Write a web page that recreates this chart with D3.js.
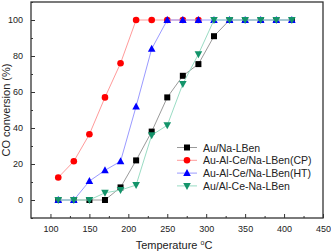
<!DOCTYPE html>
<html>
<head>
<meta charset="utf-8">
<script src="https://cdn.jsdelivr.net/npm/d3@7"></script>
<style>
    body { margin: 0; background: #fff; }
    text { font-family: 'Liberation Sans', Arial, sans-serif; }
</style>
</head>
<body>
<div id="chart"></div>
<script>
// temperatures (°C) shared by all series
const temps = [110, 130, 150, 170, 190, 210, 230, 250, 270, 290, 310, 330, 350, 370, 390, 410];

// CO conversion (%) per catalyst
const auNa = [0, 0, 0, 0, 7, 22, 38, 57, 69, 75.5, 91, 100, 100, 100, 100, 100];
const auCP = [12.5, 21.5, 36.5, 57, 76, 100, 100, 100, 100, 100];
const auHT = [0, 0, 10.5, 16.5, 21.5, 52, 84, 100, 100, 100, 100, 100, 100, 100, 100, 100];
const auAlCe = [0, 0, 0, 4, 5.5, 8.3, 36, 41.5, 64.5, 81, 100, 100, 100, 100, 100, 100];

const seriesNames = ['Au/Na-LBen', 'Au-Al-Ce/Na-LBen(CP)', 'Au-Al-Ce/Na-LBen(HT)', 'Au/Al-Ce-Na-LBen'];
const xTicks = [100, 150, 200, 250, 300, 350, 400, 450];
const yTicks = [0, 20, 40, 60, 80, 100];

const series = [
    { name: seriesNames[0], values: auNa, color: '#000000', line: '#9a9a9a', shape: 'square' },
    { name: seriesNames[1], values: auCP, color: '#ff0000', line: '#ff9a9a', shape: 'circle' },
    { name: seriesNames[2], values: auHT, color: '#0000ff', line: '#9a9aff', shape: 'up' },
    { name: seriesNames[3], values: auAlCe, color: '#13946a', line: '#9adcc4', shape: 'down' },
];

const width = 331, height = 251;
const margin = { top: 2, right: 8, bottom: 33, left: 31 };

const svg = d3.select('#chart').append('svg')
    .attr('width', width).attr('height', height);

const x = d3.scaleLinear().domain([75, 450]).range([margin.left, width - margin.right]);
const y = d3.scaleLinear().domain([-10, 110]).range([height - margin.bottom, margin.top]);

// frame
svg.append('rect')
    .attr('x', x.range()[0]).attr('y', y.range()[1])
    .attr('width', x.range()[1] - x.range()[0])
    .attr('height', y.range()[0] - y.range()[1])
    .attr('fill', 'none').attr('stroke', '#333').attr('stroke-width', 1.3);

// axes with inward ticks
const xAxis = svg.append('g').attr('transform', `translate(0,${y.range()[0]})`)
    .call(d3.axisBottom(x).tickValues(xTicks).tickSizeInner(-4).tickSizeOuter(0).tickPadding(8));
const xMinor = svg.append('g').attr('transform', `translate(0,${y.range()[0]})`)
    .call(d3.axisBottom(x).tickValues(d3.range(125, 450, 50)).tickSize(-2).tickFormat(''));
const yAxis = svg.append('g').attr('transform', `translate(${x.range()[0]},0)`)
    .call(d3.axisLeft(y).tickValues(yTicks).tickSizeInner(-4).tickSizeOuter(0).tickPadding(8));
const yMinor = svg.append('g').attr('transform', `translate(${x.range()[0]},0)`)
    .call(d3.axisLeft(y).tickValues(d3.range(-10, 111, 20)).tickSize(-2).tickFormat(''));

[xAxis, xMinor, yAxis, yMinor].forEach((g) => {
    g.select('.domain').remove();
    g.selectAll('line').attr('stroke', '#333').attr('stroke-width', 1);
    g.selectAll('text').attr('font-size', 9).attr('fill', '#222')
        .attr('font-family', "'Liberation Sans', Arial, sans-serif");
});

// axis titles
svg.append('text')
    .attr('x', 174).attr('y', 249)
    .attr('text-anchor', 'middle').attr('font-size', 11).attr('fill', '#222')
    .html('Temperature <tspan dy="-4" font-size="7">o</tspan><tspan dy="4">C</tspan>');

svg.append('text')
    .attr('transform', `translate(10,${(y.range()[0] + y.range()[1]) / 2}) rotate(-90)`)
    .attr('text-anchor', 'middle').attr('font-size', 11).attr('fill', '#222')
    .text('CO conversion (%)');

const line = d3.line().x((d) => x(d[0])).y((d) => y(d[1]));

function marker(g, shape, color) {
    if (shape === 'square') {
        g.append('rect').attr('x', -3).attr('y', -3).attr('width', 6).attr('height', 6).attr('fill', color);
    } else if (shape === 'circle') {
        g.append('circle').attr('r', 3.3).attr('fill', color);
    } else {
        const s = shape === 'up' ? 1 : -1;
        g.append('path').attr('d', `M0,${-4 * s}L${3.8},${3 * s}L${-3.8},${3 * s}Z`).attr('fill', color);
    }
}

series.forEach((s) => {
    const pts = s.values.map((v, i) => [temps[i], v]);
    svg.append('path').datum(pts)
        .attr('d', line).attr('fill', 'none')
        .attr('stroke', s.line).attr('stroke-width', 1);
    svg.append('g').selectAll('g').data(pts).enter().append('g')
        .attr('transform', (d) => `translate(${x(d[0])},${y(d[1])})`)
        .each(function () { marker(d3.select(this), s.shape, s.color); });
});

// legend
const legend = svg.append('g').attr('transform', 'translate(177,147.5)');
series.forEach((s, i) => {
    const row = legend.append('g').attr('transform', `translate(0,${i * 12.8})`);
    row.append('line').attr('x1', 0).attr('x2', 20).attr('stroke', s.line).attr('stroke-width', 1);
    marker(row.append('g').attr('transform', 'translate(10,0)'), s.shape, s.color);
    row.append('text').attr('x', 26).attr('y', 4).attr('font-size', 10.5).attr('fill', '#222').text(s.name);
});
</script>
</body>
</html>
